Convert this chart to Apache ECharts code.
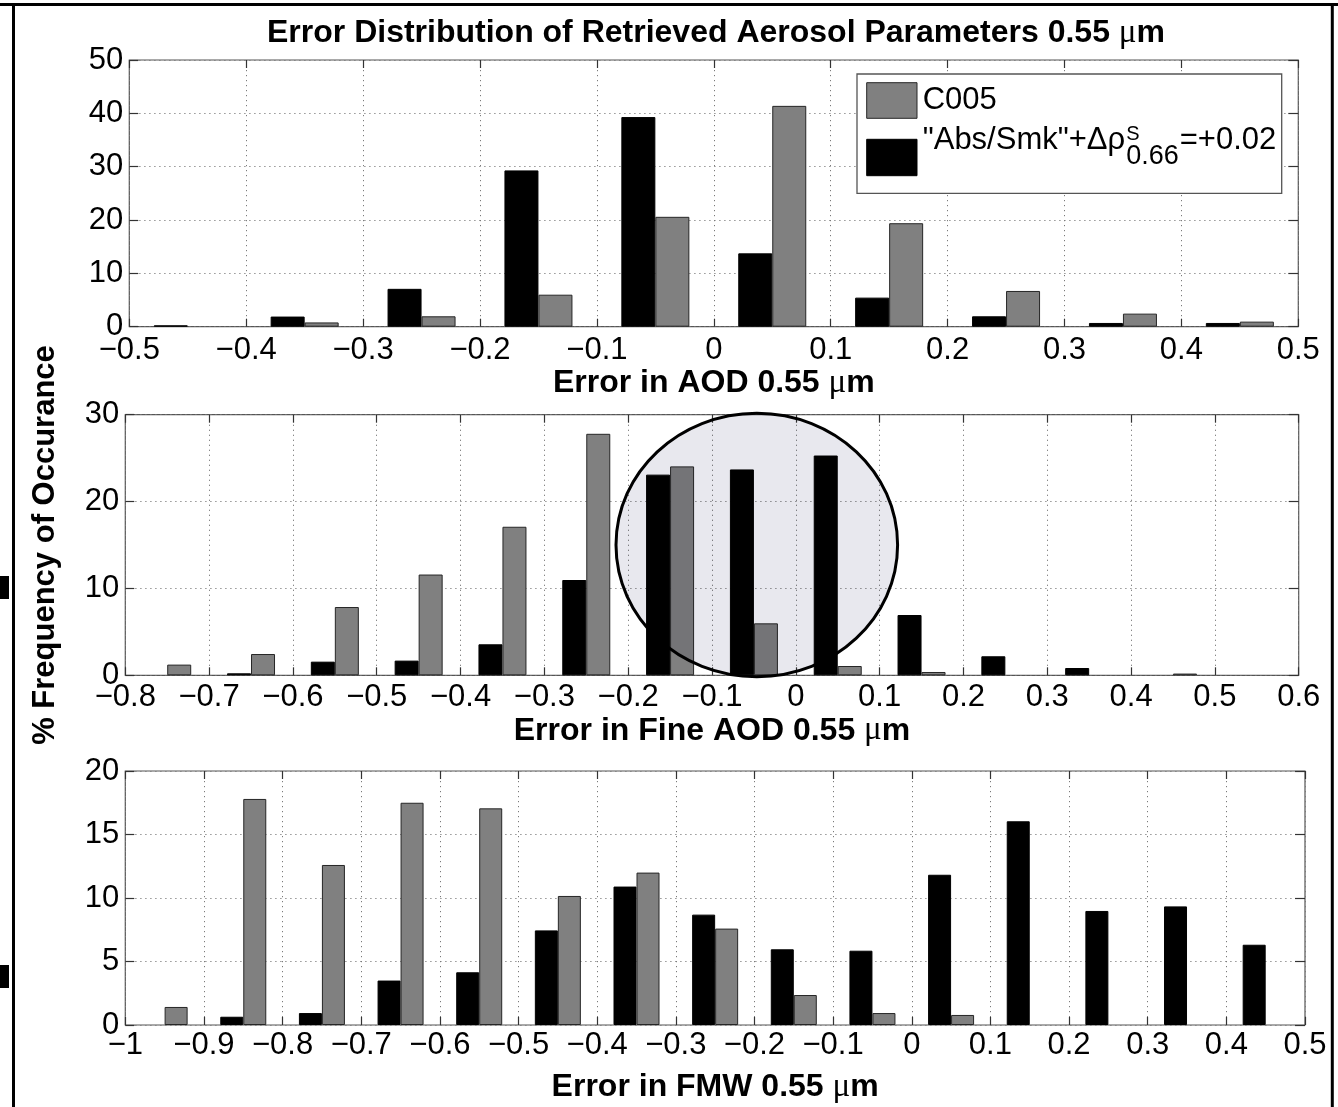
<!DOCTYPE html>
<html>
<head>
<meta charset="utf-8">
<script src="https://cdn.jsdelivr.net/npm/echarts@6/dist/echarts.min.js"></script>
<style>
html,body{margin:0;padding:0;background:#fff;}
#chart{width:1338px;height:1107px;}
</style>
</head>
<body>
<div id="chart"></div>
<script>
// ---------- data ----------
const topBins = [-0.45, -0.35, -0.25, -0.15, -0.05, 0.05, 0.15, 0.25, 0.35, 0.45];
const topC005 = [0, 0.8, 1.95, 6.0, 20.6, 41.4, 19.4, 6.7, 2.45, 0.95];
const topAbs  = [0.25, 1.9, 7.1, 29.3, 39.3, 13.75, 5.45, 1.95, 0.7, 0.7];

const midBins = [-0.75, -0.65, -0.55, -0.45, -0.35, -0.25, -0.15, -0.05, 0.05, 0.15, 0.25, 0.35, 0.45, 0.55];
const midC005 = [1.23, 2.45, 7.86, 11.6, 17.1, 27.8, 24.05, 5.98, 1.07, 0.38, 0, 0, 0.2, 0];
const midAbs  = [0, 0.23, 1.57, 1.69, 3.57, 10.97, 23.1, 23.7, 25.3, 6.94, 2.19, 0.84, 0, 0];

const botBins = [-0.95, -0.85, -0.75, -0.65, -0.55, -0.45, -0.35, -0.25, -0.15, -0.05, 0.05, 0.15, 0.25, 0.35, 0.45];
const botC005 = [1.42, 17.8, 12.6, 17.5, 17.06, 10.16, 12.0, 7.59, 2.36, 0.94, 0.79, 0, 0, 0, 0];
const botAbs  = [0, 0.65, 0.94, 3.5, 4.15, 7.45, 10.9, 8.69, 5.96, 5.85, 11.83, 16.04, 8.98, 9.34, 6.32];

const topXTicks = ['−0.5','−0.4','−0.3','−0.2','−0.1','0','0.1','0.2','0.3','0.4','0.5'];
const midXTicks = ['−0.8','−0.7','−0.6','−0.5','−0.4','−0.3','−0.2','−0.1','0','0.1','0.2','0.3','0.4','0.5','0.6'];
const botXTicks = ['−1','−0.9','−0.8','−0.7','−0.6','−0.5','−0.4','−0.3','−0.2','−0.1','0','0.1','0.2','0.3','0.4','0.5'];
const topYTicks = ['0','10','20','30','40','50'];
const midYTicks = ['0','10','20','30'];
const botYTicks = ['0','5','10','15','20'];

const seriesNameC005 = 'C005';
const seriesNameAbs = '"Abs/Smk"+Δρ 0.66 S=+0.02';
const titleText = 'Error Distribution of Retrieved Aerosol Parameters 0.55 {mu|μ}m';
const xNames = ['Error in AOD 0.55 {mu|μ}m', 'Error in Fine AOD 0.55 {mu|μ}m', 'Error in FMW 0.55 {mu|μ}m'];
const yName = '% Frequency of Occurance';

// ---------- layout / style ----------
const FONT = "'Liberation Sans', Arial, Helvetica, sans-serif";
const panels = [
  {bins: topBins, c005: topC005, abs: topAbs, xt: topXTicks, yt: topYTicks,
   xmin: -0.5, xmax: 0.5, xint: 0.1, ymin: 0, ymax: 50, yint: 10,
   grid: {left: 129.3, top: 60, width: 1169, height: 266.7}, barWidth: 34, labelMargin: 8, nameGap: 36},
  {bins: midBins, c005: midC005, abs: midAbs, xt: midXTicks, yt: midYTicks,
   xmin: -0.8, xmax: 0.6, xint: 0.1, ymin: 0, ymax: 30, yint: 10,
   grid: {left: 125.3, top: 414.7, width: 1173.4, height: 260.6}, barWidth: 24, labelMargin: 7, nameGap: 35},
  {bins: botBins, c005: botC005, abs: botAbs, xt: botXTicks, yt: botYTicks,
   xmin: -1.0, xmax: 0.5, xint: 0.1, ymin: 0, ymax: 20, yint: 5,
   grid: {left: 125.3, top: 771, width: 1179.7, height: 254}, barWidth: 23, labelMargin: 5, nameGap: 46}
];

function pairs(bins, vals) {
  return bins.map((b, i) => [b, vals[i] > 0 ? vals[i] : '-']);
}

const muRich = {mu: {fontFamily: "'Liberation Serif', 'DejaVu Serif', serif", fontWeight: 'normal', fontSize: 33, color: '#000'}};
const splitStyle = {color: '#7a7a7a', width: 1, type: [1.2, 3.8]};

const grids = [], xAxes = [], yAxes = [], series = [];
panels.forEach((p, i) => {
  grids.push(Object.assign({show: true, borderColor: '#555', borderWidth: 1.2, backgroundColor: 'transparent', containLabel: false}, p.grid));
  xAxes.push({
    type: 'value', gridIndex: i, min: p.xmin, max: p.xmax, interval: p.xint, position: 'bottom',
    axisLine: {show: false, onZero: false},
    axisTick: {show: true, inside: true, length: 8, lineStyle: {color: '#333', width: 1.2}},
    axisLabel: {show: true, fontSize: 31, color: '#000', fontFamily: FONT, margin: p.labelMargin,
      showMinLabel: true, showMaxLabel: true, formatter: (v, idx) => p.xt[idx]},
    splitLine: {show: true, lineStyle: splitStyle},
    name: xNames[i], nameLocation: 'middle', nameGap: p.nameGap,
    nameTextStyle: {fontSize: 32, fontWeight: 'bold', fontFamily: FONT, color: '#000', rich: muRich}
  });
  xAxes.push({
    type: 'value', gridIndex: i, min: p.xmin, max: p.xmax, interval: p.xint, position: 'top',
    axisLine: {show: false, onZero: false},
    axisTick: {show: true, inside: true, length: 8, lineStyle: {color: '#333', width: 1.2}},
    axisLabel: {show: false}, splitLine: {show: false}
  });
  yAxes.push(Object.assign({
    type: 'value', gridIndex: i, min: p.ymin, max: p.ymax, interval: p.yint, position: 'left',
    axisLine: {show: false, onZero: false},
    axisTick: {show: true, inside: true, length: 9, lineStyle: {color: '#333', width: 1.2}},
    axisLabel: {show: true, fontSize: 31, color: '#000', fontFamily: FONT, margin: 6,
      showMinLabel: true, showMaxLabel: true, formatter: (v, idx) => p.yt[idx]},
    splitLine: {show: true, lineStyle: splitStyle}
  }, i === 1 ? {
    name: yName, nameLocation: 'middle', nameGap: 64, nameRotate: 90,
    nameTextStyle: {fontSize: 31, fontWeight: 'bold', fontFamily: FONT, color: '#000'}
  } : {}));
  yAxes.push({
    type: 'value', gridIndex: i, min: p.ymin, max: p.ymax, interval: p.yint, position: 'right',
    axisLine: {show: false, onZero: false},
    axisTick: {show: true, inside: true, length: 10, lineStyle: {color: '#333', width: 1.2}},
    axisLabel: {show: false}, splitLine: {show: false}
  });
  series.push({
    type: 'bar', name: seriesNameAbs, xAxisIndex: 2 * i, yAxisIndex: 2 * i,
    data: pairs(p.bins, p.abs), barWidth: p.barWidth, barGap: '0%',
    itemStyle: {color: '#000', borderColor: '#000', borderWidth: 1}
  });
  series.push({
    type: 'bar', name: seriesNameC005, xAxisIndex: 2 * i, yAxisIndex: 2 * i,
    data: pairs(p.bins, p.c005), barWidth: p.barWidth, barGap: '0%',
    itemStyle: {color: '#808080', borderColor: '#262626', borderWidth: 1}
  });
});

// legend text measurement
const mctx = document.createElement('canvas').getContext('2d');
function tw(t, size) { mctx.font = size + 'px ' + FONT; return mctx.measureText(t).width; }
const legMain = '"Abs/Smk"+Δρ';
const legX = 922.7;
const subX = legX + tw(legMain, 31) + 1;
const endX = subX + tw('0.66', 27) + 1;

const graphics = [
  // figure frame
  {type: 'line', shape: {x1: 0, y1: 4.5, x2: 1338, y2: 4.5}, style: {stroke: '#000', lineWidth: 3}, z: 100, silent: true},
  {type: 'line', shape: {x1: 13.5, y1: 3, x2: 13.5, y2: 1107}, style: {stroke: '#000', lineWidth: 3}, z: 100, silent: true},
  {type: 'line', shape: {x1: 1332.3, y1: 3, x2: 1332.3, y2: 1107}, style: {stroke: '#000', lineWidth: 3}, z: 100, silent: true},
  {type: 'rect', shape: {x: 0, y: 576, width: 9, height: 23}, style: {fill: '#000'}, z: 100, silent: true},
  {type: 'rect', shape: {x: 0, y: 965, width: 9, height: 23}, style: {fill: '#000'}, z: 100, silent: true},
  // highlight circle
  {type: 'ellipse', shape: {cx: 756.8, cy: 545, rx: 140.8, ry: 131.7}, style: {fill: '#e8e8ee', blend: 'multiply'}, z: 50, silent: true},
  {type: 'ellipse', shape: {cx: 756.8, cy: 545, rx: 140.8, ry: 131.7}, style: {fill: null, stroke: '#000', lineWidth: 3}, z: 51, silent: true},
  // legend box
  {type: 'rect', shape: {x: 857, y: 74, width: 424.7, height: 119.3}, style: {fill: '#fff', stroke: '#555', lineWidth: 1.3}, z: 60, silent: true},
  {type: 'rect', shape: {x: 866.7, y: 82.7, width: 50.3, height: 35.6}, style: {fill: '#808080', stroke: '#262626', lineWidth: 1}, z: 61, silent: true},
  {type: 'rect', shape: {x: 866.7, y: 139.3, width: 50.3, height: 36.4}, style: {fill: '#000', stroke: '#000', lineWidth: 1}, z: 61, silent: true},
  {type: 'text', x: legX, y: 100, style: {text: seriesNameC005, font: '31px ' + FONT, fill: '#000', verticalAlign: 'middle'}, z: 61, silent: true},
  {type: 'text', x: legX, y: 140, style: {text: legMain, font: '31px ' + FONT, fill: '#000', verticalAlign: 'middle'}, z: 61, silent: true},
  {type: 'text', x: subX, y: 134, style: {text: 'S', font: '20px ' + FONT, fill: '#000', verticalAlign: 'middle'}, z: 61, silent: true},
  {type: 'text', x: subX, y: 157, style: {text: '0.66', font: '27px ' + FONT, fill: '#000', verticalAlign: 'middle'}, z: 61, silent: true},
  {type: 'text', x: endX, y: 140, style: {text: '=+0.02', font: '31px ' + FONT, fill: '#000', verticalAlign: 'middle'}, z: 61, silent: true}
];

const chart = echarts.init(document.getElementById('chart'), null, {renderer: 'canvas'});
chart.setOption({
  backgroundColor: '#fff',
  animation: false,
  title: {
    text: titleText, left: 711, top: 12, textAlign: 'center',
    textStyle: {fontSize: 32, fontWeight: 'bold', fontFamily: FONT, color: '#000', rich: muRich}
  },
  grid: grids,
  xAxis: xAxes,
  yAxis: yAxes,
  series: series,
  graphic: graphics
});
</script>
</body>
</html>
